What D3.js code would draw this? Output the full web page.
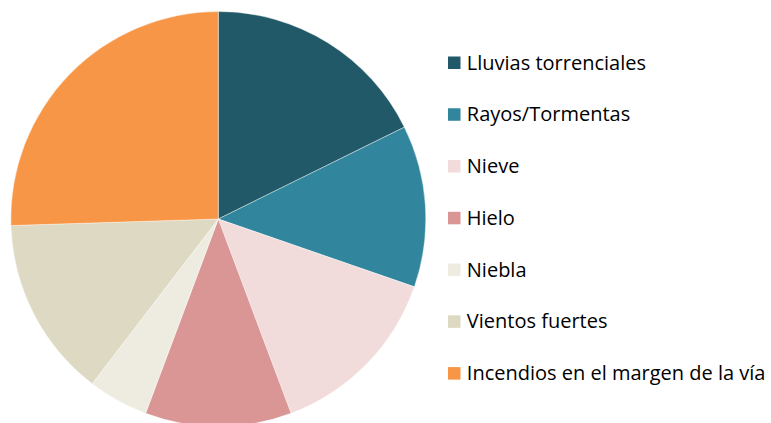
<!DOCTYPE html>
<html>
<head>
<meta charset="utf-8">
<script src="https://cdn.jsdelivr.net/npm/d3@7"></script>
<style>
  html, body { margin: 0; padding: 0; background: #fff; }
  svg { display: block; }
  .legend text { font-family: "Open Sans", sans-serif; font-size: 20px; fill: #000; }
</style>
</head>
<body>
<div class="chart"></div>
<script>
(function(){

    // Data
    var categories = ["Lluvias torrenciales", "Rayos/Tormentas", "Nieve", "Hielo",
                      "Niebla", "Vientos fuertes", "Incendios en el margen de la vía"];
    var values = [17.7, 12.6, 14.0, 11.4, 4.7, 14.1, 25.5];
    var colors = ["#215968", "#31859C", "#F2DCDB", "#D99694", "#EEECE1", "#DDD9C3", "#F79646"];

    var width = 771, height = 423;
    var cx = 218.3, cy = 219, radius = 207.5;

    var svg = d3.select(".chart").append("svg")
                .attr("width", width)
                .attr("height", height);

    var pie = d3.pie().sort(null).value(function(d) { return d.value; });
    var arc = d3.arc().innerRadius(0).outerRadius(radius);

    var data = categories.map(function(c, i) { return { name: c, value: values[i], color: colors[i] }; });

    svg.append("g")
       .attr("transform", "translate(" + cx + "," + cy + ")")
       .selectAll("path")
       .data(pie(data))
       .enter()
       .append("path")
       .attr("d", arc)
       .attr("fill", function(d) { return d.data.color; })
       .attr("stroke", "#fff")
       .attr("stroke-width", 0.4);

    // Legend
    var legendY = d3.scalePoint().domain(categories).range([62.7, 373.3]);

    var items = svg.append("g")
                   .attr("class", "legend")
                   .selectAll("g")
                   .data(data)
                   .enter()
                   .append("g")
                   .attr("transform", function(d) { return "translate(448," + legendY(d.name) + ")"; });

    items.append("rect")
         .attr("x", 0)
         .attr("y", -6.2)
         .attr("width", 12.5)
         .attr("height", 12.5)
         .attr("fill", function(d) { return d.color; });

    items.append("text")
         .attr("x", 18.8)
         .attr("y", 6.8)
         .text(function(d) { return d.name; });

})();
</script>
</body>
</html>
